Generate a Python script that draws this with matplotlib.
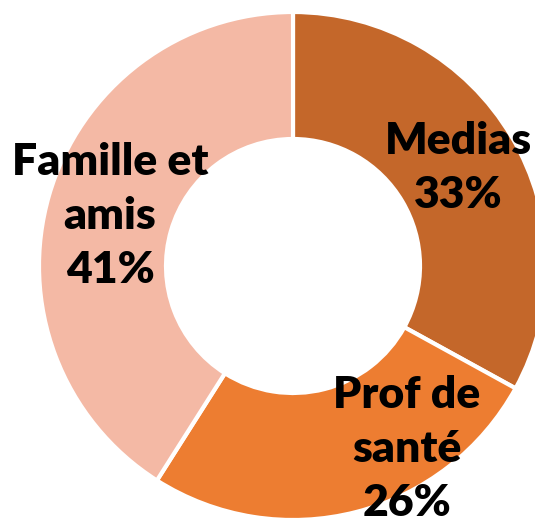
import matplotlib.pyplot as plt

# Sources d'information
categories = ["Medias", "Prof de\nsanté", "Famille et\namis"]
values = [33, 26, 41]
colors = ["#C4672A", "#ED7D31", "#F4B9A5"]

W, H = 535, 524
cx, cy, R = 293, 266, 254   # centre et rayon en pixels

fig = plt.figure(figsize=(W / 100, H / 100), dpi=100)
ax = fig.add_axes([0, 0, 1, 1])

wedges, _ = ax.pie(values, colors=colors, startangle=90, counterclock=False,
                   radius=1, wedgeprops=dict(width=0.5, edgecolor="white", linewidth=3))

ax.set_xlim(-cx / R, (W - cx) / R)
ax.set_ylim(-(H - cy) / R, cy / R)
ax.set_aspect("equal")
ax.axis("off")

# positions des étiquettes (pixels dans l'image)
label_pos = [(458, 168), (407, 449), (110, 216)]
for cat, v, (px, py) in zip(categories, values, label_pos):
    ax.text((px - cx) / R, (cy - py) / R, f"{cat}\n{v}%", ha="center", va="center",
            fontsize=32, fontweight="heavy", family="Lato", linespacing=1.42)

fig.savefig("out.png", dpi=100)
